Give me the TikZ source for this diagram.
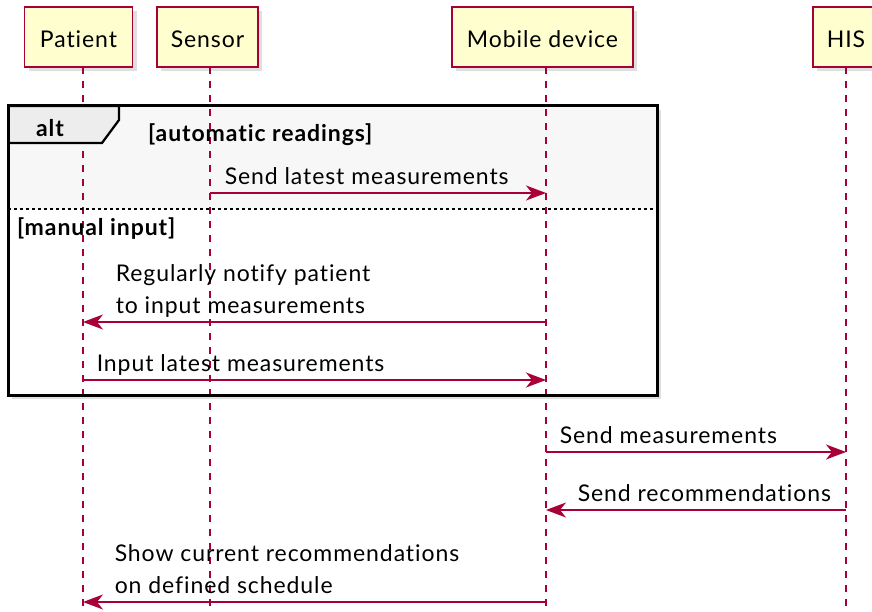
\documentclass[tikz,border=0pt]{standalone}
\usepackage{fontspec}
\setmainfont{Lato}[LetterSpace=4, Ligatures=NoCommon]
\usepackage{xcolor}
\usepackage{tikz}
\usetikzlibrary{positioning,arrows.meta,shadows}
\definecolor{umlred}{HTML}{A80036}
\definecolor{umlyellow}{HTML}{FEFECE}

\begin{document}
\begin{tikzpicture}[x=1pt, y=-1pt, font=\fontsize{23}{32}\selectfont,
		actor/.style={draw=umlred, fill=umlyellow, line width=1.5pt, minimum height=60pt, text height=22pt, text depth=0pt, inner sep=0pt, drop shadow={shadow xshift=4pt, shadow yshift=-4pt, opacity=0.25}},
		life/.style={umlred, line width=1.5pt, dash pattern=on 7pt off 7pt},
		msg/.style={umlred, line width=1.5pt, -{Stealth[length=20pt, width=15pt, inset=6pt]}},
		lbl/.style={anchor=base west, inner sep=0pt, text=black, align=left},
		guard/.style={anchor=base west, inner sep=0pt, font=\fontsize{23}{32}\selectfont\bfseries}]
		\useasboundingbox (0,0) rectangle (872,612);
		\clip (0,0) rectangle (872,612);
		
		\node[actor, minimum width=108pt] (patient) at (78.5,37) {Patient};
		\node[actor, minimum width=101pt] (sensor) at (207.5,37) {Sensor};
		\node[actor, minimum width=181pt] (mobile) at (542.5,37) {Mobile device};
		\node[actor, minimum width=66pt] (his) at (846,37) {HIS};
		
		\coordinate (patL) at (83,67);
		\coordinate (senL) at (210,67);
		\coordinate (mobL) at (546,67);
		\coordinate (hisL) at (846,67);
		
		% alt frame
		\coordinate (altNW) at (8,106);
		\coordinate (altSE) at (657,395);
		\path[fill=white, drop shadow={shadow xshift=4pt, shadow yshift=-4pt, opacity=0.25}] (altNW) rectangle (altSE);
		\fill[black!3] (altNW) rectangle (657,209);
		
		\foreach \l in {patL,senL,mobL,hisL}
			\draw[life] (\l) -- (\l |- 0,612);
		
		\draw[fill=black!7, line width=2.25pt] (altNW) -- (119,106) -- (119,120) -- (102,143) -- (8,143);
		\draw[dash pattern=on 3pt off 3pt, line width=1.5pt] (8,209) -- (657,209);
		\draw[line width=3pt] (altNW) rectangle (altSE);
		\node[guard, anchor=base] at (50,136.5) {alt};
		\node[guard] at (148,141.5) {[automatic readings]};
		\node[guard] at (17,236) {[manual input]};
		
		% messages
		\draw[msg] (senL |- 0,193) node[lbl, xshift=14pt, yshift=8.5pt] {Send latest measurements} -- (mobL |- 0,193);
		\draw[msg] (mobL |- 0,322) -- (patL |- 0,322) node[lbl, xshift=32pt, yshift=9pt] {Regularly notify patient\\to input measurements};
		\draw[msg] (patL |- 0,380) node[lbl, xshift=13pt, yshift=8.5pt] {Input latest measurements} -- (mobL |- 0,380);
		\draw[msg] (mobL |- 0,452) node[lbl, xshift=13pt, yshift=8.5pt] {Send measurements} -- (hisL |- 0,452);
		\draw[msg] (hisL |- 0,510) -- (mobL |- 0,510) node[lbl, xshift=31pt, yshift=8.5pt] {Send recommendations};
		\draw[msg] (mobL |- 0,602) -- (patL |- 0,602) node[lbl, xshift=31pt, yshift=9pt] {Show current recommendations\\on defined schedule};
	\end{tikzpicture}
\end{document}
